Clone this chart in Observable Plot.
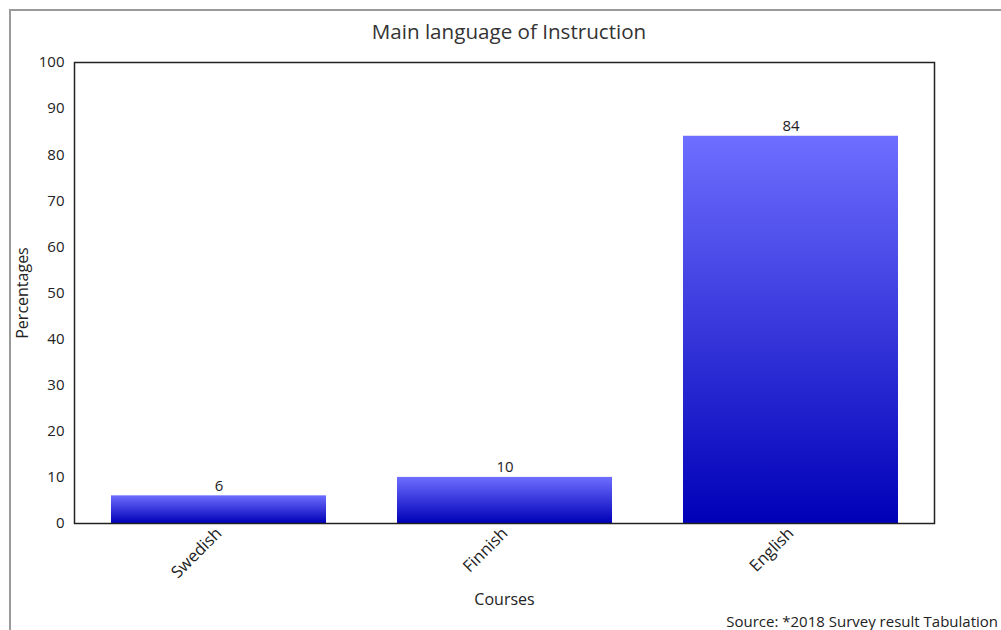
<!DOCTYPE html>
<html>
<head>
<meta charset="utf-8">
<script src="https://cdn.jsdelivr.net/npm/d3@7"></script>
<script src="https://cdn.jsdelivr.net/npm/@observablehq/plot@0.6"></script>
<style>
  html, body { margin: 0; padding: 0; background: #fff; }
  #wrap { position: relative; width: 1001px; height: 630px; overflow: hidden; font-family: "Open Sans", sans-serif; }
  #border { position: absolute; left: 9px; top: 9px; width: 1100px; height: 700px; border: 2px solid #9a9a9a; box-sizing: border-box; }
  #title { position: absolute; left: 0; width: 1018px; top: 17px; text-align: center; font-size: 20.6px; color: #333; }
  #source { position: absolute; right: 3px; top: 611px; font-size: 15px; color: #222; white-space: nowrap; }
  #chart { position: absolute; left: 0; top: 0; }
</style>
</head>
<body>
<div id="wrap">
  <div id="border"></div>
  <div id="chart"></div>
  <div id="title">Main language of Instruction</div>
  <div id="source">Source: *2018 Survey result Tabulation</div>
</div>
<script>
const categories = ["Swedish", "Finnish", "English"];
const percentages = [6, 10, 84];
const yTicks = [0, 10, 20, 30, 40, 50, 60, 70, 80, 90, 100];

const data = categories.map((c, i) => ({course: c, value: percentages[i]}));

const chart = Plot.plot({
  width: 1001,
  height: 630,
  marginLeft: 74,
  marginTop: 62,
  marginRight: 67,
  marginBottom: 107,
  style: {fontFamily: "'Open Sans', sans-serif", fontSize: "15px", color: "#222", background: "transparent"},
  x: {domain: categories, paddingInner: 0.25, paddingOuter: 0.125, label: null},
  y: {domain: [0, 100], label: null},
  marks: [
    Plot.barY(data, {x: "course", y: "value", fill: "url(#barGrad)"}),
    Plot.text(data, {x: "course", y: "value", text: d => String(d.value), lineAnchor: "bottom", dy: -5, fontSize: 15, fill: "#222"}),
    Plot.frame({stroke: "#222", strokeWidth: 1.5}),
    Plot.axisY({ticks: yTicks, tickSize: 0, tickPadding: 10, fontSize: 15, label: null}),
    Plot.axisX({tickSize: 0, tickRotate: -45, tickPadding: 7, fontSize: 16.5, label: null}),
    Plot.text(["Courses"], {frameAnchor: "bottom", dy: 81, fontSize: 16, fill: "#222"}),
    Plot.text(["Percentages"], {frameAnchor: "left", textAnchor: "middle", dx: -52, rotate: -90, fontSize: 16, fill: "#222"})
  ]
});

const svg = d3.select(chart);
const defs = svg.insert("defs", ":first-child");
const grad = defs.append("linearGradient").attr("id", "barGrad")
  .attr("x1", 0).attr("y1", 0).attr("x2", 0).attr("y2", 1);
grad.append("stop").attr("offset", "0%").attr("stop-color", "#6e6eff");
grad.append("stop").attr("offset", "100%").attr("stop-color", "#0000b8");

document.getElementById("chart").appendChild(chart);
</script>
</body>
</html>
